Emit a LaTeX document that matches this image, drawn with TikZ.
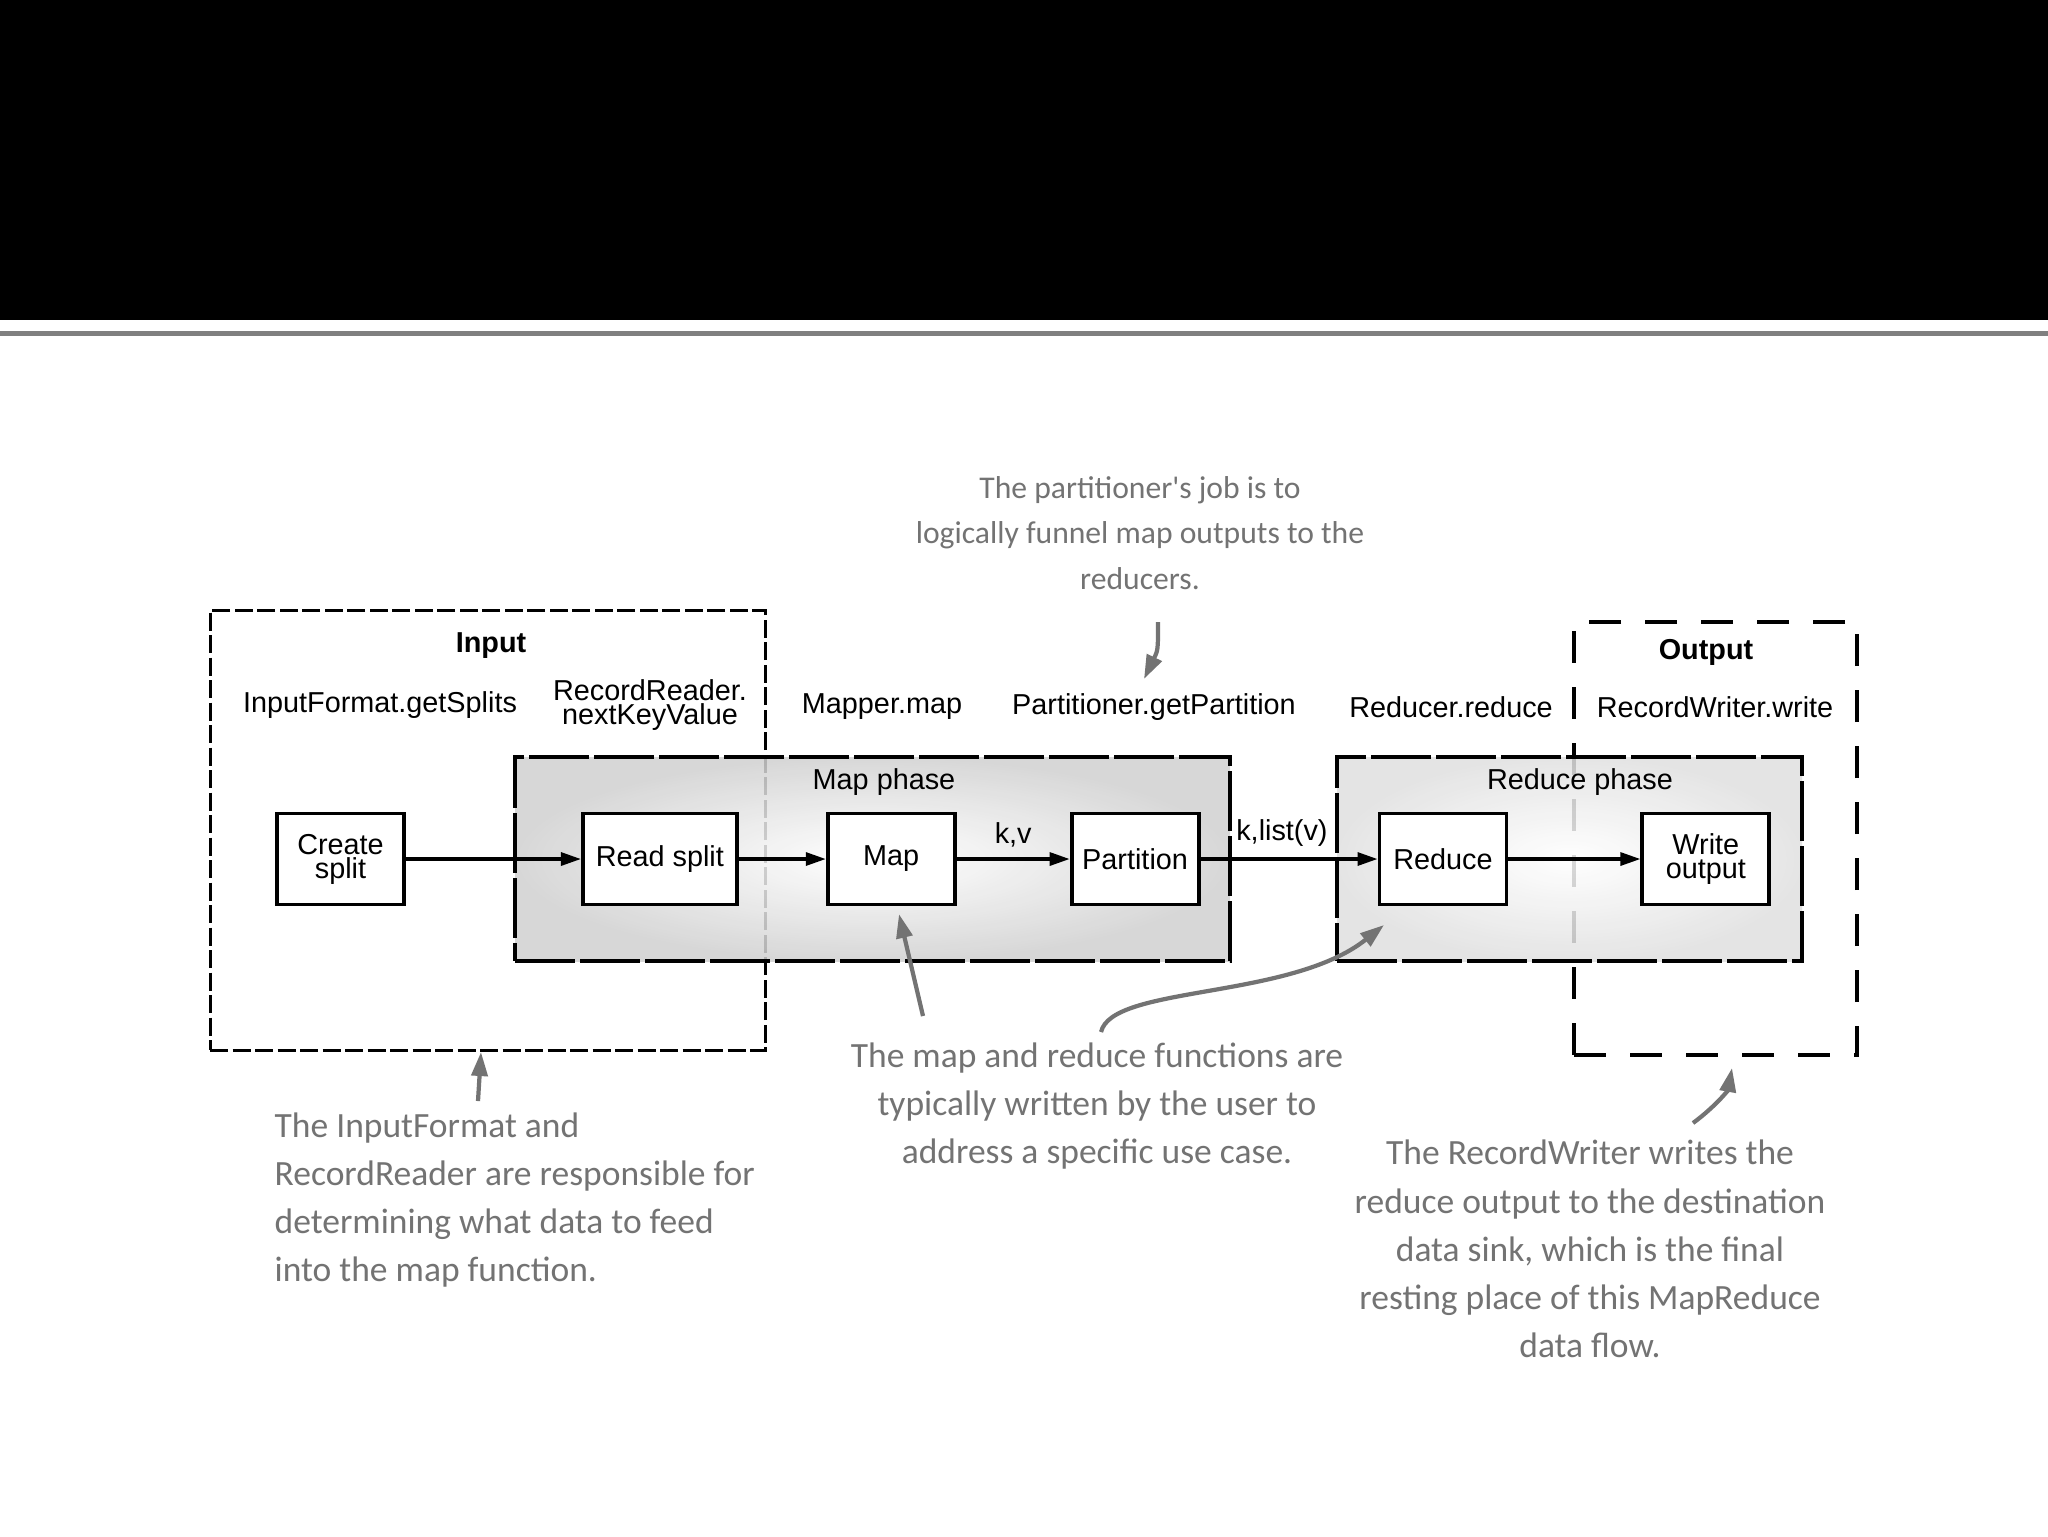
\documentclass[tikz,border=0pt]{standalone}
\usepackage{fontspec}
\setmainfont{Liberation Sans}
\newfontfamily\handfont{Carlito}
\usetikzlibrary{positioning,arrows.meta}
\newcommand\lblfont{\fontsize{8.2}{6.8}\selectfont}
\newcommand\notefont{\handfont\fontsize{10.1}{13.7}\selectfont}
\definecolor{hand}{gray}{0.45}
\begin{document}
\begin{tikzpicture}[
  x=0.1mm, y=-0.1mm,
  every node/.style={font=\lblfont, align=center},
  blk/.style={draw, line width=1.1pt, fill=white, minimum width=12.7mm, minimum height=9.1mm, inner sep=1pt},
  phase/.style={draw, line width=0.9pt, dash pattern=on 6mm off 0.5mm, inner color=white, fill opacity=0.85, minimum height=20.4mm},
  inbox/.style={draw, line width=0.85pt, dash pattern=on 1.8mm off 0.45mm},
  outbox/.style={draw, line width=1.4pt, dash pattern=on 3.2mm off 2.4mm},
  arrow/.style={-{Triangle[length=2mm,width=1.3mm]}, line width=0.9pt},
  note/.style={font=\notefont, text=hand, inner sep=0pt},
  pointer/.style={-{Triangle[length=2.4mm,width=1.6mm]}, line width=1.2pt, draw=hand}
]
\useasboundingbox (0,0) rectangle (2048,1536);
\fill[white] (0,0) rectangle (2048,1536);
\fill[black] (0,0) rectangle (2048,320);
\draw[black!50, line width=0.5mm] (0,333) -- (2048,333);

\node[inbox, minimum width=55.5mm, minimum height=44mm] (inp) at (487.5,830) {};
\node[outbox, minimum width=28.3mm, minimum height=43.3mm] (outp) at (1715.5,838.5) {};
\node[phase, outer color=black!18, minimum width=71.5mm] (mph) at (872.5,859) {};
\node[phase, outer color=black!12, minimum width=46.5mm] (rph) at (1569.5,859) {};

\node (tin) at (491,646) {\bfseries Input};
\node (tout) at (1706,652) {\bfseries Output};
\node (gs) at (380,705) {InputFormat.getSplits};
\node (nkv) at (650,705) {RecordReader.\\nextKeyValue};
\node (mm) at (882,707) {Mapper.map};
\node (gp) at (1154,707) {Partitioner.getPartition};
\node (rr) at (1451,707) {Reducer.reduce};
\node (rw) at (1715,707) {RecordWriter.write};
\node (tmp) at (884,782) {Map phase};
\node (trp) at (1580,782) {Reduce phase};

\node[blk] (cs) at (340.5,859) {Create\\split};
\node[blk, minimum width=15.4mm, right=17.5mm of cs] (rs) {Read split};
\node[blk, right=8.7mm of rs] (mp) {Map};
\node[blk, right=11.3mm of mp] (pt) {Partition};
\node[blk, right=17.7mm of pt] (rd) {Reduce};
\node[blk, right=13.2mm of rd] (wo) {Write\\output};

\draw[arrow] (cs) -- (rs);
\draw[arrow] (rs) -- (mp);
\draw[arrow] (mp) -- node[above, inner sep=1pt, yshift=0.7mm] {k,v} (pt);
\draw[arrow] (pt) -- node[pos=0.46, above, inner sep=1pt, yshift=0.7mm] {k,list(v)} (rd);
\draw[arrow] (rd) -- (wo);

\node[note, align=center, font=\handfont\fontsize{9}{12.9}\selectfont] (n1) at (1140,533) {The partitioner's job is to\\logically funnel map outputs to the\\reducers.};
\node[note, align=left, anchor=west] (n2) at (274,1200) {The InputFormat and\\RecordReader are responsible for\\determining what data to feed\\into the map function.};
\node[note, align=center] (n3) at (1097,1106) {The map and reduce functions are\\typically written by the user to\\address a specific use case.};
\node[note, align=center] (n4) at (1590,1249) {The RecordWriter writes the\\reduce output to the destination\\data sink, which is the final\\resting place of this MapReduce\\data flow.};

\coordinate (p1) at (1144,679);
\coordinate (p2) at (481,1052);
\coordinate (p3) at (899,914);
\coordinate (p4) at (1384,925);
\coordinate (p5) at (1732,1068);
\draw[pointer] (1158,622) .. controls (1158,650) .. (p1);
\draw[pointer] (478,1101) -- (p2);
\draw[pointer] (923,1016) -- (p3);
\draw[pointer] (1101,1032) .. controls (1112,985) and (1290,1000) .. (p4);
\draw[pointer] (1693,1123) .. controls (1716,1106) and (1728,1090) .. (p5);
\end{tikzpicture}
\end{document}
